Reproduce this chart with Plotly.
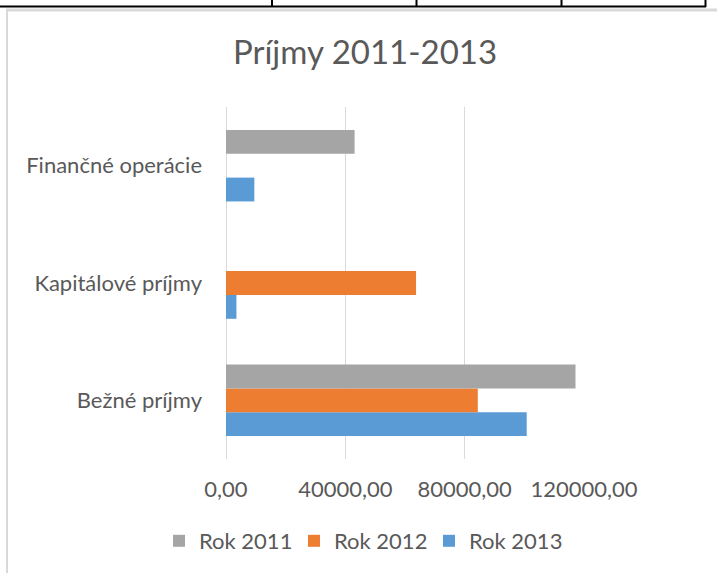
import plotly.graph_objects as go

categories = ["Bežné príjmy", "Kapitálové príjmy", "Finančné operácie"]
rok_2011 = [117150, None, 43100]
rok_2012 = [84400, 63700, None]
rok_2013 = [100800, 3500, 9500]
series_names = ["Rok 2011", "Rok 2012", "Rok 2013"]
colors = ["#A5A5A5", "#ED7D31", "#5B9BD5"]
x_ticks = [0, 40000, 80000, 120000]

W, H = 717, 573
L, R, T, B = 226, 584, 107, 459
FONT = "Lato"
TXT = "#595959"

fig = go.Figure()
# add in reverse so 2011 is on top in each group
for name, vals, col in reversed(list(zip(series_names, [rok_2011, rok_2012, rok_2013], colors))):
    fig.add_trace(go.Bar(y=categories, x=vals, name=name, orientation="h",
                         marker=dict(color=col, line=dict(width=0))))

def px_x(p):
    return (p - L) / (R - L)

def px_y(p):
    return (B - p) / (B - T)

shapes = []
# table border at top (black)
shapes.append(dict(type="line", xref="paper", yref="paper", x0=px_x(0), x1=px_x(706),
                   y0=px_y(6.5), y1=px_y(6.5), line=dict(color="#000000", width=2)))
for vx in [272, 416.5, 561.5, 705.5]:
    shapes.append(dict(type="line", xref="paper", yref="paper", x0=px_x(vx), x1=px_x(vx),
                       y0=px_y(-2), y1=px_y(7), line=dict(color="#000000", width=2)))
# chart area border (gray)
shapes.append(dict(type="line", xref="paper", yref="paper", x0=px_x(6), x1=px_x(720),
                   y0=px_y(10), y1=px_y(10), line=dict(color="#D9D9D9", width=3)))
shapes.append(dict(type="line", xref="paper", yref="paper", x0=px_x(7), x1=px_x(7),
                   y0=px_y(9), y1=px_y(580), line=dict(color="#D9D9D9", width=2)))

fig.update_layout(
    width=W, height=H,
    margin=dict(l=L, r=W - R, t=T, b=H - B, pad=0, autoexpand=False),
    paper_bgcolor="white", plot_bgcolor="white",
    separators=",.",
    barmode="group", bargap=0.39, bargroupgap=0,
    font=dict(family=FONT, color=TXT, size=22),
    title=dict(text="Príjmy 2011-2013", x=365 / W, xref="container", xanchor="center",
               y=1 - 52 / H, yref="container", yanchor="middle",
               font=dict(family=FONT, size=33, color=TXT)),
    xaxis=dict(range=[0, 120000], tickvals=x_ticks, tickformat=".2f",
               showgrid=True, gridcolor="#D9D9D9", gridwidth=1,
               zeroline=True, zerolinecolor="#D9D9D9", zerolinewidth=1,
               showline=False, ticks="", ticklabelstandoff=15,
               tickfont=dict(family=FONT, size=22, color=TXT), fixedrange=True),
    yaxis=dict(categoryorder="array", categoryarray=categories,
               showgrid=False, zeroline=False, showline=False, ticks="",
               ticklabelstandoff=23,
               tickfont=dict(family=FONT, size=22, color=TXT), fixedrange=True),
    legend=dict(orientation="h", traceorder="reversed",
                x=px_x(159), xref="paper", xanchor="left",
                y=px_y(541), yref="paper", yanchor="middle",
                font=dict(family=FONT, size=22, color=TXT), entrywidth=90,
                bgcolor="rgba(0,0,0,0)"),
    showlegend=True,
    shapes=shapes,
)

fig.write_html("out.html", config={"displayModeBar": False},
               post_script="document.body.style.margin='0';")
